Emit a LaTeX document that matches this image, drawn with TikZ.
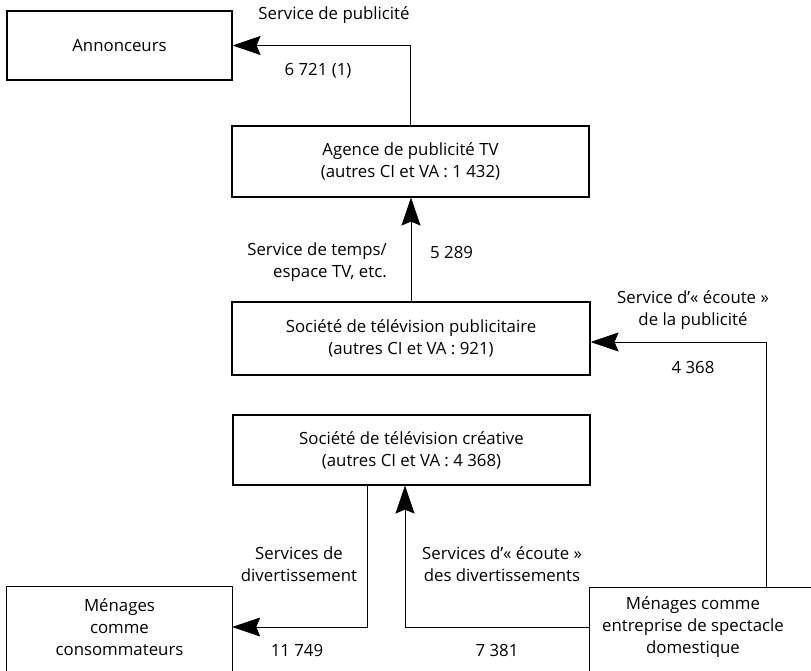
\documentclass[tikz,border=0pt]{standalone}
\usepackage{fontspec}
\setmainfont{Open Sans}
\usetikzlibrary{arrows.meta}
\begin{document}
\begin{tikzpicture}[x=1pt,y=-1pt,
  font=\fontsize{16.8}{22}\selectfont,
  box/.style={draw,line width=1.1pt,align=center,inner sep=0pt},
  openbox/.style={align=center,inner sep=0pt},
  lbl/.style={align=center,inner sep=0pt},
  conn/.style={line width=0.7pt},
  arr/.style={conn,-{Stealth[length=28pt,width=19pt,inset=4pt]}}]
\useasboundingbox (0,0) rectangle (811,670);
\clip (0,0) rectangle (811,670);
% boxes
\node[box,minimum width=225pt,minimum height=69pt] (ann) at (119.5,45.5) {Annonceurs};
\node[box,minimum width=357pt,minimum height=71pt] (age) at (410.5,161.5) {Agence de publicité TV\\(autres CI et VA : 1 432)};
\node[box,minimum width=358pt,minimum height=73pt] (pub) at (411,338.5) {Société de télévision publicitaire\\(autres CI et VA : 921)};
\node[box,minimum width=357pt,minimum height=70pt] (cre) at (411.5,450) {Société de télévision créative\\(autres CI et VA : 4 368)};
\node[openbox,minimum width=225pt,minimum height=80pt] (con) at (119.5,627) {Ménages\\comme\\consommateurs};
\node[openbox,minimum width=206pt,minimum height=78pt] (dom) at (693,627) {Ménages comme\\entreprise de spectacle\\domestique};
\draw[line width=1.1pt] ([yshift=-30pt]con.south west) -- (con.north west) -- (con.north east) -- ([yshift=-30pt]con.south east);
\draw[line width=1.1pt] ([yshift=-30pt]dom.south west) -- (dom.north west) -- ([xshift=40pt]dom.north east);
% coordinates
\coordinate (pv) at (766,342);
% connectors
\draw[arr] (age.north) |- (ann.east);
\draw[arr] (pub.north) -- (pub.north |- age.south);
\draw[arr] (pv |- dom.north) -- (pv) -- (pv -| pub.east);
\draw[arr] (cre.south -| 367,0) |- (con.east);
\draw[arr] (dom.west) -| (cre.south -| 405,0);
% labels
\node[lbl] (l1) at (334,15) {Service de publicité};
\node[lbl] (l2) at (318,71) {6 721 (1)};
\node[lbl,align=right,anchor=east] (l3) at (387,262) {Service de temps/\\espace TV, etc.};
\node[lbl,anchor=west] (l4) at (430,252) {5 289};
\node[lbl] (l5) at (693,310) {Service d’« écoute »\\de la publicité};
\node[lbl] (l6) at (693,367) {4 368};
\node[lbl] (l7) at (299,564) {Services de\\divertissement};
\node[lbl] (l8) at (297,650) {11 749};
\node[lbl] (l9) at (502,564) {Services d’« écoute »\\des divertissements};
\node[lbl] (l10) at (497,650) {7 381};
\end{tikzpicture}
\end{document}
